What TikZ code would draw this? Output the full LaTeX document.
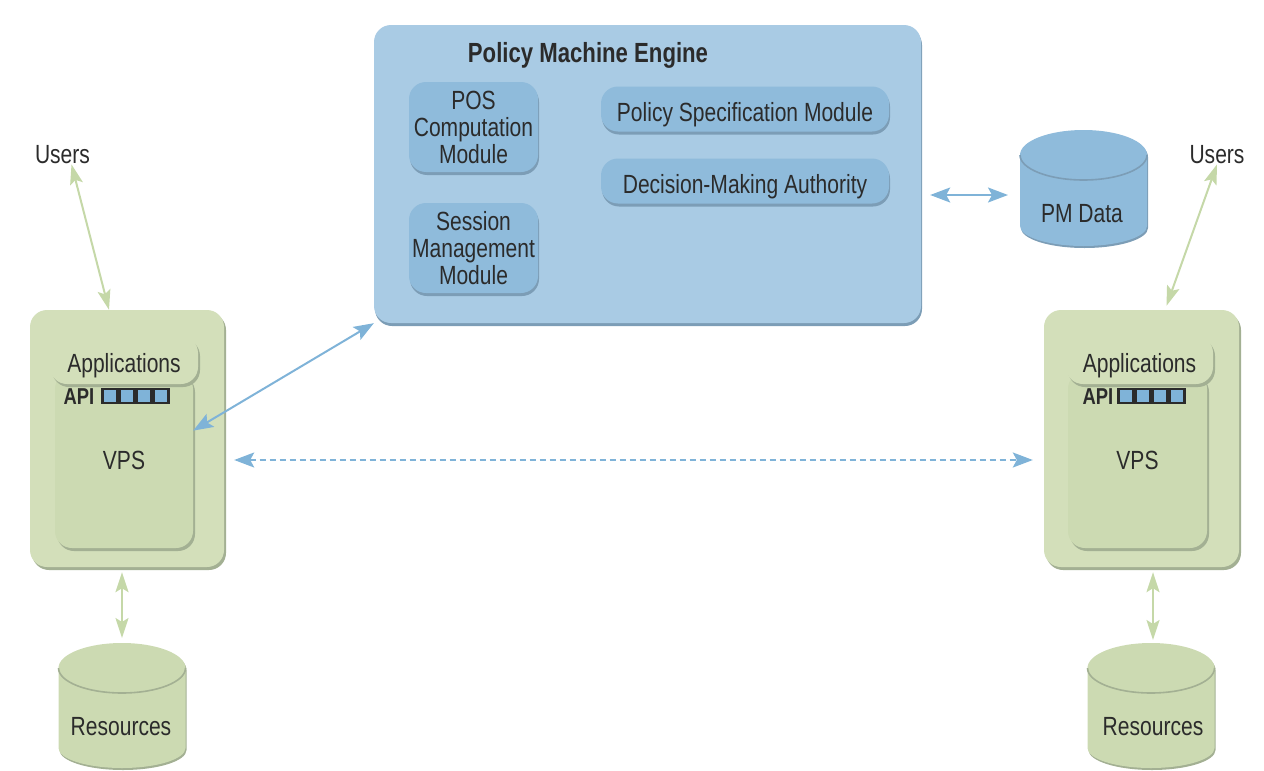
\documentclass[tikz,border=0pt]{standalone}
\usepackage{fontspec}
\setmainfont[FakeStretch=0.80]{Liberation Sans}
\usepackage{tikz}
\usetikzlibrary{arrows.meta}
\usetikzlibrary{shadows}
\definecolor{engineblue}{HTML}{A9CBE4}
\definecolor{moduleblue}{HTML}{8FBBDB}
\definecolor{shadeblue}{HTML}{7C9DB6}
\definecolor{linkblue}{HTML}{7FB3D8}
\definecolor{hostgreen}{HTML}{D3DFBA}
\definecolor{vpsgreen}{HTML}{CCDAB2}
\definecolor{shadegreen}{HTML}{A3B093}
\definecolor{linkgreen}{HTML}{C5D8A8}
\definecolor{inkgray}{HTML}{2B2B2B}
\tikzset{
  label text/.style={font=\fontsize{26.3}{27}\selectfont, text=inkgray, align=center, inner sep=0pt},
  low text/.style={text height=25pt, text depth=0pt},
  title text/.style={font=\fontsize{27.7}{27}\selectfont\bfseries, text=inkgray, inner sep=0pt},
  api text/.style={font=\fontsize{23}{27}\selectfont\bfseries, text=inkgray, inner sep=0pt},
  blue box/.style={rounded corners=17pt, fill=#1, label text, drop shadow={shadow xshift=1pt, shadow yshift=-3pt, fill=shadeblue, opacity=1}},
  green box/.style={rounded corners=17pt, fill=#1, label text, drop shadow={shadow xshift=2pt, shadow yshift=-3pt, fill=shadegreen, opacity=1}},
  api cell/.style={draw=inkgray, line width=2.4pt, fill=linkblue, minimum width=15pt, minimum height=14pt, inner sep=0pt},
  blue can/.style={fill=moduleblue, drop shadow={shadow xshift=1pt, shadow yshift=-2pt, fill=shadeblue, opacity=1}},
  green can/.style={fill=vpsgreen, drop shadow={shadow xshift=1pt, shadow yshift=-2pt, fill=shadegreen, opacity=1}},
  can rim/.style={draw=#1, line width=1.6pt},
  green link/.style={{Stealth[length=20pt,width=13pt,inset=4pt]}-{Stealth[length=20pt,width=13pt,inset=4pt]}, draw=linkgreen, line width=2pt},
  blue link/.style={{Stealth[length=20pt,width=15pt,inset=4pt]}-{Stealth[length=20pt,width=15pt,inset=4pt]}, draw=linkblue, line width=2pt}
}
\begin{document}
\begin{tikzpicture}[x=1pt,y=1pt]
  \useasboundingbox (0,0) rectangle (1264,-771);
  % engine
  \node[blue box=engineblue, minimum width=547pt, minimum height=298pt] (engine) at (647.5,-174) {};
  \node[title text] (enginetitle) at (588,-55) {Policy Machine Engine};
  \node[blue box=moduleblue, minimum width=129pt, minimum height=90pt] (pos) at (473.5,-127) {POS\\Computation\\Module};
  \node[blue box=moduleblue, minimum width=129pt, minimum height=90pt] (session) at (473.5,-248) {Session\\Management\\Module};
  \node[blue box=moduleblue, low text, minimum width=288pt, minimum height=45pt] (policy) at (745,-109) {Policy Specification Module};
  \node[blue box=moduleblue, low text, minimum width=288pt, minimum height=45pt] (decision) at (745,-181) {Decision-Making Authority};
  % left host
  \node[green box=hostgreen, minimum width=194pt, minimum height=257pt] (hostleft) at (127,-438.5) {};
  \node[green box=vpsgreen, minimum width=138pt, minimum height=176pt] (vpsleft) at (124,-460) {VPS};
  \node[green box=hostgreen, low text, minimum width=148pt, minimum height=48pt] (appsleft) at (124,-360) {Applications};
  \node[api text] (apileft) at (79,-397) {API};
  \node[api cell] (cellleft a) at (110,-396) {};
  \node[api cell] (cellleft b) at (127,-396) {};
  \node[api cell] (cellleft c) at (144,-396) {};
  \node[api cell] (cellleft d) at (161,-396) {};
  % right host
  \node[green box=hostgreen, minimum width=195pt, minimum height=257pt] (hostright) at (1141.5,-438.5) {};
  \node[green box=vpsgreen, minimum width=139pt, minimum height=176pt] (vpsright) at (1137.5,-460) {VPS};
  \node[green box=hostgreen, low text, minimum width=147pt, minimum height=48pt] (appsright) at (1139.5,-360) {Applications};
  \node[api text] (apiright) at (1098,-397) {API};
  \node[api cell] (cellright a) at (1126,-396) {};
  \node[api cell] (cellright b) at (1143,-396) {};
  \node[api cell] (cellright c) at (1160,-396) {};
  \node[api cell] (cellright d) at (1177,-396) {};
  % data stores
  \coordinate (pmtop) at (1083.5,-155);
  \coordinate (resleft) at (122,-668);
  \coordinate (resright) at (1151,-668);
  \path[blue can] ([xshift=-63.5pt]pmtop) arc[start angle=180, end angle=0, x radius=63.5, y radius=25] -- ++(0,-71) arc[start angle=0, end angle=-180, x radius=63.5, y radius=20] -- cycle;
  \path[green can] ([xshift=-63.5pt]resleft) arc[start angle=180, end angle=0, x radius=63.5, y radius=25] -- ++(0,-80) arc[start angle=0, end angle=-180, x radius=63.5, y radius=20] -- cycle;
  \path[green can] ([xshift=-63.5pt]resright) arc[start angle=180, end angle=0, x radius=63.5, y radius=25] -- ++(0,-80) arc[start angle=0, end angle=-180, x radius=63.5, y radius=20] -- cycle;
  \draw[can rim=shadeblue] ([xshift=-63.5pt]pmtop) arc[start angle=180, end angle=360, x radius=63.5, y radius=25];
  \draw[can rim=shadegreen] ([xshift=-63.5pt]resleft) arc[start angle=180, end angle=360, x radius=63.5, y radius=25];
  \draw[can rim=shadegreen] ([xshift=-63.5pt]resright) arc[start angle=180, end angle=360, x radius=63.5, y radius=25];
  \node[label text] (pmdata) at (1082,-214) {PM Data};
  \node[label text] (restextleft) at (121,-727) {Resources};
  \node[label text] (restextright) at (1153,-727) {Resources};
  % users
  \node[label text] (usersleft) at (62.5,-155) {Users};
  \node[label text] (usersright) at (1217,-155) {Users};
  % links
  \draw[green link] ([xshift=9pt]usersleft.south) -- ([xshift=-18pt]hostleft.north);
  \draw[green link] (usersright.south) -- ([xshift=25pt,yshift=4pt]hostright.north);
  \draw[green link] ([xshift=-5pt,yshift=-5pt]hostleft.south) -- ([yshift=30pt]resleft);
  \draw[green link] ([xshift=11.5pt,yshift=-5pt]hostright.south) -- ([xshift=2pt,yshift=28pt]resright);
  \draw[blue link] (engine.south west) -- (vpsleft.23);
  \draw[blue link] ([xshift=9pt,yshift=-21pt]engine.east) -- ([xshift=-75.5pt,yshift=-40pt]pmtop);
  \draw[blue link, dash pattern=on 6pt off 4pt] ([xshift=41pt]vpsleft.east) -- ([xshift=-35pt]vpsright.west);
\end{tikzpicture}
\end{document}
